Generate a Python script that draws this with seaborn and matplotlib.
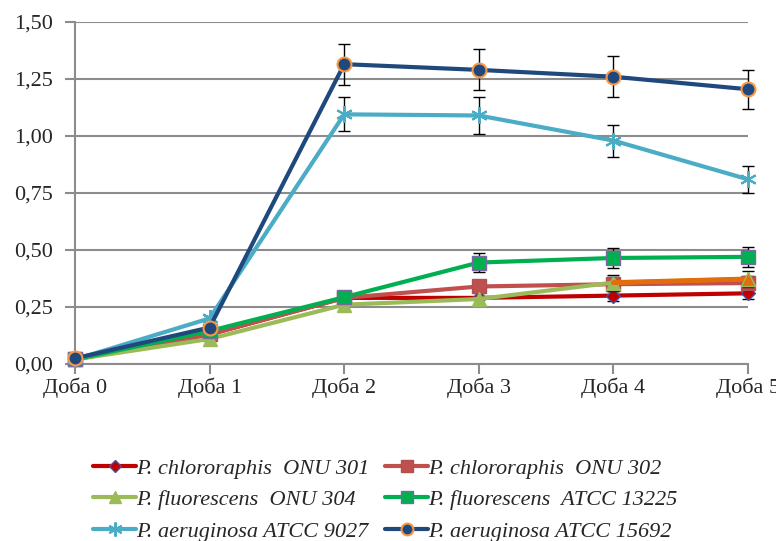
import matplotlib
matplotlib.use("Agg")
import matplotlib.pyplot as plt
import seaborn as sns
import numpy as np
import pandas as pd
from matplotlib.lines import Line2D

# ---- data ----
days = ["Доба 0", "Доба 1", "Доба 2", "Доба 3", "Доба 4", "Доба 5"]
labels = [
    "P. chlororaphis  ONU 301",
    "P. chlororaphis  ONU 302",
    "P. fluorescens  ONU 304",
    "P. fluorescens  ATCC 13225",
    "P. aeruginosa ATCC 9027",
    "P. aeruginosa ATCC 15692",
]
chl301 = [0.02, 0.13, 0.29, 0.29, 0.30, 0.31]
chl302 = [0.02, 0.13, 0.29, 0.34, 0.35, 0.355]
flu304 = [0.02, 0.11, 0.26, 0.285, 0.357, 0.373]
flu13225 = [0.02, 0.145, 0.293, 0.445, 0.465, 0.47]
aer9027 = [0.02, 0.20, 1.095, 1.09, 0.98, 0.81]
aer15692 = [0.025, 0.16, 1.315, 1.29, 1.26, 1.205]

err301 = [0.0, 0.0, 0.0, 0.0, 0.025, 0.025]
err302 = [0.0, 0.0, 0.0, 0.03, 0.03, 0.03]
err304 = [0.0, 0.0, 0.0, 0.0, 0.035, 0.035]
err13225 = [0.0, 0.0, 0.015, 0.043, 0.043, 0.043]
err9027 = [0.0, 0.01, 0.075, 0.08, 0.07, 0.06]
err15692 = [0.0, 0.0, 0.09, 0.09, 0.09, 0.085]

yticks = [0.0, 0.25, 0.5, 0.75, 1.0, 1.25, 1.5]
ytick_labels = ["0,00", "0,25", "0,50", "0,75", "1,00", "1,25", "1,50"]

series = [
    (labels[0], chl301, err301, dict(color="#C00000", marker="D", markersize=7, mfc="#C00000", mec="#4F4F9F")),
    (labels[1], chl302, err302, dict(color="#C0504D", marker="s", markersize=10, mfc="#C0504D", mec="#B05050")),
    (labels[2], flu304, err304, dict(color="#9BBB59", marker="^", markersize=10, mfc="#9BBB59", mec="#9BBB59")),
    (labels[3], flu13225, err13225, dict(color="#00B050", marker="s", markersize=10, mfc="#00B050", mec="#8064A2")),
    (labels[4], aer9027, err9027, dict(color="#4BACC6", marker=(6, 2, 0), markersize=12, mfc="#4BACC6", mec="#4BACC6", mew=1.5)),
    (labels[5], aer15692, err15692, dict(color="#1F497D", marker="o", markersize=10, mfc="#1F497D", mec="#F79646", mew=1.5)),
]

sns.set_style("white")
plt.rcParams["font.family"] = ["Liberation Serif", "DejaVu Serif"]

fig = plt.figure(figsize=(7.76, 5.41), dpi=100)
ax = fig.add_axes([75 / 776, 1 - 364 / 541, (748 - 75) / 776, (364 - 22) / 541])

xpos = np.arange(len(days))
handles = {}
for i, (lab, vals, errs, st) in enumerate(series):
    df = pd.DataFrame({"day": days, "value": vals})
    sns.lineplot(data=df, x="day", y="value", ax=ax, color=st["color"], lw=3,
                 marker=st["marker"], markersize=st["markersize"],
                 markerfacecolor=st["mfc"], markeredgecolor=st["mec"],
                 markeredgewidth=st.get("mew", 1), zorder=3 + i, sort=False,
                 clip_on=False)
    if lab == labels[2]:
        # last segment highlighted orange
        df2 = pd.DataFrame({"day": days[4:], "value": vals[4:]})
        sns.lineplot(data=df2, x="day", y="value", ax=ax, color="#E46C0A", lw=3.5,
                     zorder=3 + i, sort=False, clip_on=False)
        ax.plot([xpos[5]], [vals[5]], marker="^", markersize=10, color="#E46C0A",
                mec="#9BBB59", zorder=3.5 + i, ls="none", clip_on=False)
    e = np.array(errs)
    m = e > 0
    eb = ax.errorbar(xpos[m], np.array(vals)[m], yerr=e[m], fmt="none", ecolor="black",
                     elinewidth=1, capsize=4, capthick=1, zorder=2.9 + i)
    for art in eb.lines[1] + eb.lines[2]:
        art.set_clip_on(False)
    handles[lab] = Line2D([], [], color=st["color"], lw=3, marker=st["marker"],
                          markersize=st["markersize"] * 0.85, markerfacecolor=st["mfc"],
                          markeredgecolor=st["mec"], markeredgewidth=st.get("mew", 1))

ax.set_xlim(0, len(days) - 1)
ax.set_ylim(0, 1.5)
ax.set_yticks(yticks)
ax.set_yticklabels(ytick_labels)
ax.set_xlabel("")
ax.set_ylabel("")
ax.grid(axis="y", color="#8C8C8C", lw=1.5)
ax.set_axisbelow(True)
for s in ["top", "right"]:
    ax.spines[s].set_visible(False)
for s in ["left", "bottom"]:
    ax.spines[s].set_color("#8C8C8C")
    ax.spines[s].set_linewidth(1.5)
ax.tick_params(axis="both", which="both", length=7, width=1.5, color="#8C8C8C",
               labelsize=16, pad=3, left=True, bottom=True)
ax.tick_params(axis="y", pad=9)

order = [labels[0], labels[2], labels[4], labels[1], labels[3], labels[5]]
leg = fig.legend([handles[k] for k in order], order, ncol=2, loc="upper left",
                 bbox_to_anchor=(93 / 776, 1 - 458 / 541), frameon=False,
                 prop={"family": "Liberation Serif", "style": "italic", "size": 16},
                 handlelength=1.95, handletextpad=0.0, columnspacing=0.7,
                 labelspacing=0.5, borderpad=0, borderaxespad=0)

fig.savefig("out.png", dpi=100)
